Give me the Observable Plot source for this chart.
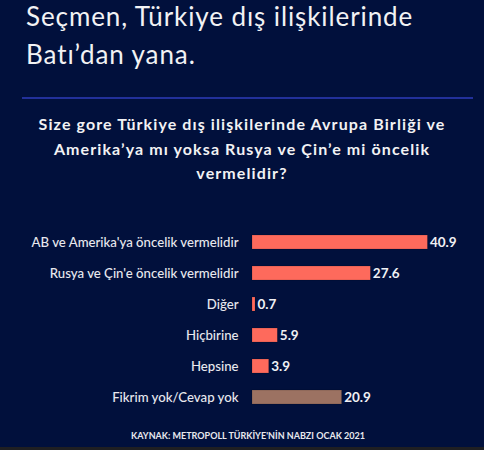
<!DOCTYPE html>
<html>
<head>
<meta charset="utf-8">
<script src="https://cdn.jsdelivr.net/npm/d3@7"></script>
<script src="https://cdn.jsdelivr.net/npm/@observablehq/plot@0.6"></script>
<style>
  html, body { margin: 0; padding: 0; background: #01103c; }
  #wrap { position: relative; width: 484px; height: 450px; background: #01103c; overflow: hidden; font-family: Lato, "Noto Sans", sans-serif; color: #f2f2f4; }
  #title { position: absolute; left: 26px; top: -3px; font-size: 26px; line-height: 38px; font-weight: 400; letter-spacing: 0.9px; white-space: nowrap; }
  #rule { position: absolute; left: 22px; top: 96.5px; width: 451px; height: 2px; background: #22309a; }
  #sub { position: absolute; left: 0; width: 484px; top: 112px; text-align: center; font-size: 16px; line-height: 24.5px; font-weight: 700; letter-spacing: 1.1px; white-space: nowrap; }
  #chart { position: absolute; left: 0; top: 210px; }
  #cap { position: absolute; left: 0; width: 484px; top: 430px; text-align: center; font-size: 9px; font-weight: 700; color: #e8e8ee; padding-left: 12px; box-sizing: border-box; white-space: nowrap; }
  #strip { position: absolute; left: 0; top: 447px; width: 484px; height: 3px; background: #1f1f22; }
</style>
</head>
<body>
<div id="wrap">
  <div id="title">Seçmen, Türkiye dış ilişkilerinde<br>Batı’dan yana.</div>
  <div id="rule"></div>
  <div id="sub">Size gore Türkiye dış ilişkilerinde Avrupa Birliği ve<br>Amerika’ya mı yoksa Rusya ve Çin’e mi öncelik<br>vermelidir?</div>
  <div id="chart"></div>
  <div id="cap">KAYNAK: METROPOLL TÜRKİYE'NİN NABZI OCAK 2021</div>
  <div id="strip"></div>
</div>
<script>
const categories = [
  "AB ve Amerika'ya öncelik vermelidir",
  "Rusya ve Çin'e öncelik vermelidir",
  "Diğer",
  "Hiçbirine",
  "Hepsine",
  "Fikrim yok/Cevap yok"
];
const values = [40.9, 27.6, 0.7, 5.9, 3.9, 20.9];
const groups = ["yanıt", "yanıt", "yanıt", "yanıt", "yanıt", "yok"];

const data = categories.map((c, i) => ({category: c, value: values[i], group: groups[i]}));

const chart = Plot.plot({
  width: 484,
  height: 215,
  marginLeft: 252,
  marginRight: 39,
  marginTop: 6,
  marginBottom: 3,
  style: {background: "transparent", color: "#e8e8ee", fontFamily: "Lato, 'Noto Sans', sans-serif", fontSize: "12px"},
  x: {domain: [0, 45], axis: null},
  y: {domain: categories, padding: 0.554, label: null},
  color: {domain: ["yanıt", "yok"], range: ["#fe6a5c", "#9c7262"]},
  marks: [
    Plot.barX(data, {y: "category", x: "value", fill: "group", stroke: "#000", strokeOpacity: 0.25, strokeWidth: 0.6}),
    Plot.axisY({tickSize: 0, tickPadding: 14, label: null, fontSize: 13.2, fontWeight: 500, fill: "#e8e8ee", style: {letterSpacing: "0.35px"}}),
    Plot.text(data, {y: "category", x: "value", text: d => d.value.toFixed(1), textAnchor: "start", dx: 2, fill: "#f0f0f4", fontSize: 13.5, fontWeight: 700})
  ]
});
document.getElementById("chart").appendChild(chart);
</script>
</body>
</html>
